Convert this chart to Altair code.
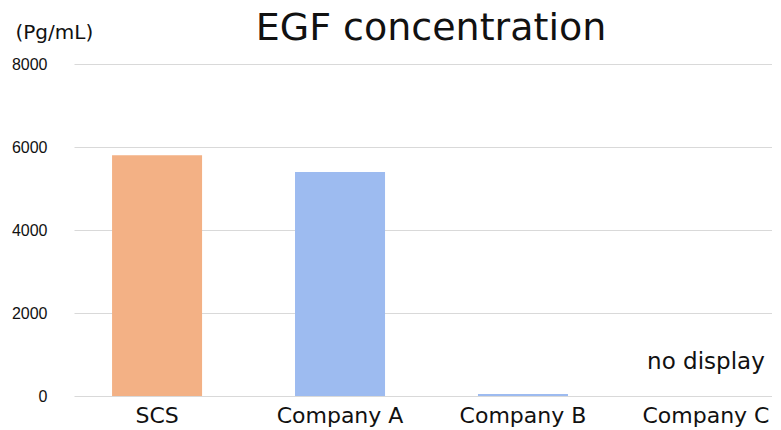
import altair as alt
import pandas as pd

title_text = "EGF concentration"
categories = ["SCS", "Company A", "Company B", "Company C"]
values = [5800, 5400, 50, 0]
bar_colors = ["#F3B185", "#9DBBF0", "#9DBBF0", "#9DBBF0"]
y_ticks = [0, 2000, 4000, 6000, 8000]
note_category = ["Company C"]
note_text = ["no display"]

df = pd.DataFrame({"category": categories, "value": values, "color": bar_colors})
notes = pd.DataFrame({"category": note_category, "text": note_text, "value": [0]})

xscale = alt.Scale(domain=categories, range=[0, 715], paddingInner=0.508, paddingOuter=0.208)
yscale = alt.Scale(domain=[0, 8000])

bars = alt.Chart(df).mark_bar().encode(
    x=alt.X("category:N", scale=xscale, sort=categories,
            axis=alt.Axis(title=None, labelAngle=0, ticks=False, domain=False,
                          labelFont="DejaVu Sans", labelFontSize=22, labelColor="#111",
                          labelPadding=9)),
    y=alt.Y("value:Q", scale=yscale,
            axis=alt.Axis(values=y_ticks, ticks=False, domain=False, format="d",
                          grid=True, gridColor="#d9d9d9", gridWidth=1,
                          labelFont="Liberation Sans", labelFontSize=16,
                          labelColor="#111", labelPadding=27,
                          title="(Pg/mL)", titleAngle=0, titleAlign="left",
                          titleBaseline="middle", titleX=-59, titleY=-32,
                          titleFont="DejaVu Sans", titleFontSize=20,
                          titleFontWeight="normal", titleColor="#111")),
    color=alt.Color("color:N", scale=None),
)

note = alt.Chart(notes).mark_text(
    font="DejaVu Sans", fontSize=23, color="#111", baseline="middle", dy=-34
).encode(
    x=alt.X("category:N", scale=xscale, sort=categories),
    y=alt.Y("value:Q", scale=yscale),
    text="text:N",
)

title_mark = alt.Chart(pd.DataFrame({"t": [title_text]})).mark_text(
    font="DejaVu Sans", fontSize=38, color="#111", baseline="alphabetic", align="center"
).encode(
    x=alt.value(357), y=alt.value(-24), text="t:N"
)

chart = alt.layer(bars, note, title_mark).properties(
    width=691,
    height=332,
    autosize=alt.AutoSizeParams(type="none"),
    padding={"left": 66, "top": 56, "right": 7, "bottom": 32},
).configure_view(stroke=None)

chart.save("out.html", embed_options={"renderer": "svg", "actions": False})
